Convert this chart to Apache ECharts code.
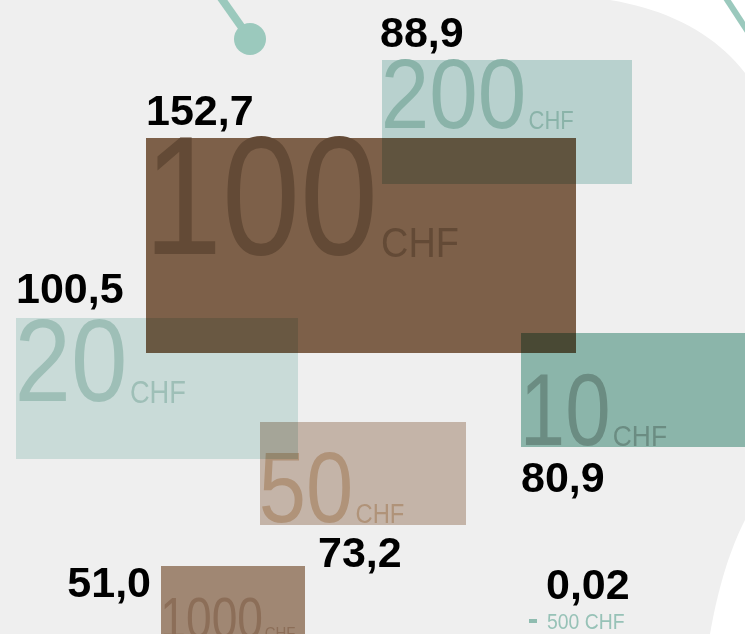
<!DOCTYPE html>
<html><head><meta charset="utf-8">
<script src="https://cdn.jsdelivr.net/npm/echarts@6/dist/echarts.min.js"></script>
<style>html,body{margin:0;padding:0;background:#fff}#c{width:745px;height:634px}</style>
</head><body><div id="c"></div><script>
// ---- data ----
const notes = ['1000', '200', '100', '50', '20', '10', '500'];
const values = [51.0, 88.9, 152.7, 73.2, 100.5, 80.9, 0.02];
const decimals = [1, 1, 1, 1, 1, 1, 2];

// ---- layout (axis units: x 0..745, y 0..634 top-down) ----
const boxLeft   = [161, 382, 146, 260, 16, 521, 529];
const boxTop    = [566, 60, 138, 422, 318, 333, 619];
const boxWidth  = [144, 250, 430, 206, 282, 230, 8];
const boxHeight = [80, 124, 215, 103, 141, 114, 4];
const numSize   = [57, 98, 168, 100, 116, 102, 0];
const numStretch = [0.81, 0.89, 0.835, 0.85, 0.875, 0.8, 0];
const numBase   = [639, 130, 258, 524, 404, 447, 0];
const chfSize   = [17, 25, 43, 27, 31, 30, 0];
const labelX    = [151, 380, 146, 318, 16, 521, 546];
const labelBase = [598, 48, 126, 568, 304, 493, 600];
const labelAlign = ['right', 'left', 'left', 'left', 'left', 'left', 'left'];

// ---- styles ----
const boxColor = ['#ab907b', '#c5dfdc', '#85664e', '#d1c0b3', '#d7eae7', '#94c1b6', '#99c9bc'];
const inkColor = ['#8c6e58', '#8ab3a9', '#634a36', '#b09379', '#9ebfb7', '#6b8c82', '#97c2b7'];

const NUM_FONT = '"Liberation Sans", Arial, sans-serif';
const CHF_STRETCH = 0.88;
const LABEL_FONT = '"Liberation Sans", Arial, sans-serif';
const LABEL_SIZE = 43;
const K = 0.30;
const mctx = document.createElement('canvas').getContext('2d');
function textW(t, size, fam, weight) { mctx.font = (weight || 'normal') + ' ' + size + 'px ' + fam; return mctx.measureText(t).width; }
function fmt(v, d) { return v.toFixed(d).replace('.', ','); }

const data = notes.map((n, i) => [boxLeft[i], boxTop[i], boxWidth[i], boxHeight[i]]);

function renderItem(params, api) {
  const i = params.dataIndex;
  const p0 = api.coord([api.value(0), api.value(1)]);
  const p1 = api.coord([api.value(0) + api.value(2), api.value(1) + api.value(3)]);
  const x = Math.min(p0[0], p1[0]), y = Math.min(p0[1], p1[1]);
  const w = Math.abs(p1[0] - p0[0]), h = Math.abs(p1[1] - p0[1]);
  const ch = [{ type: 'rect', shape: { x: x, y: y, width: w, height: h }, style: { fill: boxColor[i] } }];
  if (numSize[i] > 0) {
    const by = api.coord([0, numBase[i]])[1];
    const nw = textW(notes[i], numSize[i], NUM_FONT) * numStretch[i];
    ch.push({ type: 'text', x: x - numSize[i] * 0.012, y: by - K * numSize[i], scaleX: numStretch[i],
      style: { text: notes[i], fill: inkColor[i], fontSize: numSize[i], fontFamily: NUM_FONT, align: 'left', verticalAlign: 'middle' } });
    ch.push({ type: 'text', x: x + nw + 1, y: by - K * chfSize[i], scaleX: CHF_STRETCH,
      style: { text: 'CHF', fill: inkColor[i], fontSize: chfSize[i], fontFamily: NUM_FONT, align: 'left', verticalAlign: 'middle' } });
  } else {
    const by = y + h + 7;
    ch.push({ type: 'text', x: x + w + 10, y: by - K * 22, scaleX: CHF_STRETCH,
      style: { text: notes[i] + ' CHF', fill: inkColor[i], fontSize: 22, fontFamily: NUM_FONT, align: 'left', verticalAlign: 'middle' } });
  }
  const lp = api.coord([labelX[i], labelBase[i]]);
  ch.push({ type: 'text', x: lp[0], y: lp[1] - K * LABEL_SIZE,
    style: { text: fmt(values[i], decimals[i]), fill: '#000', fontSize: LABEL_SIZE, fontWeight: 'bold', fontFamily: LABEL_FONT, align: labelAlign[i], verticalAlign: 'middle' } });
  return { type: 'group', children: ch };
}

function quadPts(a, c, b, extra) {
  const pts = [];
  for (let t = 0; t <= 1.0001; t += 0.05) {
    const u = 1 - t;
    pts.push([u * u * a[0] + 2 * u * t * c[0] + t * t * b[0], u * u * a[1] + 2 * u * t * c[1] + t * t * b[1]]);
  }
  return pts.concat(extra);
}

const chart = echarts.init(document.getElementById('c'), null, { renderer: 'canvas' });
chart.setOption({
  backgroundColor: '#efefef',
  animation: false,
  grid: { left: 0, right: 0, top: 0, bottom: 0 },
  xAxis: { type: 'value', min: 0, max: 745, show: false },
  yAxis: { type: 'value', min: 0, max: 634, inverse: true, show: false },
  graphic: [
    { type: 'polygon', z: 0, silent: true, shape: { points: quadPts([610, 0], [700, 15], [745, 73], [[746, 0]]) }, style: { fill: '#ffffff' } },
    { type: 'polygon', z: 0, silent: true, shape: { points: quadPts([745, 520], [722, 565], [710, 634], [[746, 634]]) }, style: { fill: '#ffffff' } },
    { type: 'line', z: 0, silent: true, shape: { x1: 214, y1: -12, x2: 250, y2: 39 }, style: { stroke: '#9bc9bd', lineWidth: 8 } },
    { type: 'circle', z: 0, silent: true, shape: { cx: 250, cy: 39, r: 16 }, style: { fill: '#9bc9bd' } },
    { type: 'line', z: 0, silent: true, shape: { x1: 722, y1: -8, x2: 752, y2: 38 }, style: { stroke: '#9bc9bd', lineWidth: 6 } }
  ],
  series: [{
    type: 'custom',
    renderItem: renderItem,
    data: data,
    clip: true,
    blendMode: 'multiply',
    encode: { x: 0, y: 1 }
  }]
});
</script></body></html>
